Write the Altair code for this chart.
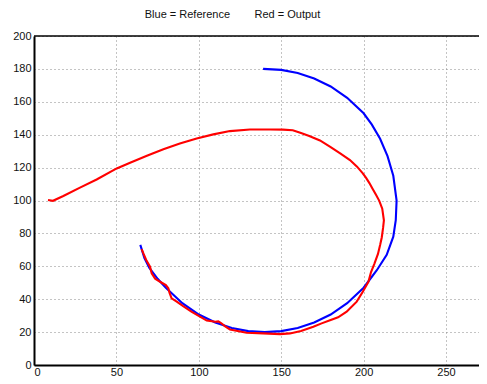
import altair as alt
import pandas as pd

# Blue = Reference
ref_x = [139, 150, 160, 170, 180, 190, 200, 205, 210, 214.5, 218, 220, 219.5, 218, 214, 208, 200, 190, 180, 170, 160, 150, 140, 130, 120, 110, 100, 90, 80, 75, 70, 67, 64.5]
ref_y = [180, 179.4, 177.5, 174.2, 169.3, 162.4, 153, 146.1, 137.5, 127, 115, 100, 88, 78, 67, 57.6, 47, 37.6, 30.7, 25.8, 22.5, 20.6, 20, 20.6, 22.5, 25.8, 30.7, 37.6, 47, 52.4, 59, 65, 73]

# Red = Output
out_x = [8.5, 11.5, 17.8, 27.9, 38, 50.2, 58.3, 68.5, 78.5, 88.5, 98.7, 108.8, 118.9, 131, 143.2, 151, 157, 162, 167, 173.5, 180, 186, 191.7, 196, 199.5, 201.5, 203.5, 205.5, 207.5, 209.5, 211.3, 212.3, 211.8, 211, 210, 208.7, 206.5, 204.5, 202.9, 199.5, 195.8, 189.7, 184.5, 179.6, 174.5, 169.5, 162, 155.3, 149.3, 139, 129, 118.9, 116, 113.5, 111.8, 110, 104.8, 100.7, 95.5, 90.5, 86.6, 83.5, 82.2, 81.5, 80, 76.5, 73.5, 71.4, 70.4, 68, 66.5, 65.3]
out_y = [100.3, 99.8, 102.7, 107.8, 112.8, 119.5, 123, 127.2, 131.2, 134.6, 137.7, 140.2, 142.2, 143.2, 143.2, 143.1, 142.7, 141, 139.2, 136.5, 132.5, 128.5, 124.6, 120.6, 116.5, 113.7, 110.6, 107, 103.5, 99.8, 95, 88, 83.3, 77.5, 72.9, 67.5, 61.5, 56.5, 50.6, 44.5, 38.5, 32.4, 29, 27.2, 25.3, 23.3, 20.7, 19.2, 18.8, 19.2, 19.6, 21.6, 23.5, 25.5, 26.5, 26.3, 27, 29.4, 32.5, 35.8, 38.5, 40.5, 44, 46.6, 48.6, 50.6, 52.5, 55.7, 59.8, 64, 67.5, 70.5]

x_ticks = [0, 50, 100, 150, 200, 250]
y_ticks = list(range(0, 201, 20))

ref = pd.DataFrame({"x": ref_x, "y": ref_y, "i": range(len(ref_x)), "s": "Reference"})
out = pd.DataFrame({"x": out_x, "y": out_y, "i": range(len(out_x)), "s": "Output"})
df = pd.concat([ref, out], ignore_index=True)

W, H = 445, 329

xs = alt.Scale(domain=[0, 270], nice=False)
ys = alt.Scale(domain=[0, 200], nice=False)

common = dict(grid=True, gridDash=[1, 3], gridColor="#888888", gridWidth=1, ticks=False,
              domainColor="black", domainWidth=2, labelFont="Liberation Sans",
              labelFontSize=11, labelColor="#111111", title=None)
xaxis = alt.Axis(values=x_ticks, labelPadding=1, **common)
yaxis = alt.Axis(values=y_ticks, labelPadding=3, **common)

lines = alt.Chart(df).mark_line(strokeWidth=2.1).encode(
    x=alt.X("x:Q", scale=xs, axis=xaxis),
    y=alt.Y("y:Q", scale=ys, axis=yaxis),
    color=alt.Color("s:N", scale=alt.Scale(domain=["Reference", "Output"], range=["#0000ff", "#ff0000"]), legend=None),
    order="i:Q",
    detail="s:N",
)

frame = alt.Chart(pd.DataFrame({"a": [0]})).mark_rule(color="black", strokeWidth=1.5).encode(
    x=alt.value(0), x2=alt.value(W), y=alt.value(0)
)

chart = alt.layer(frame, lines).properties(
    width=W, height=H,
    title=alt.TitleParams("Blue = Reference\u00a0\u00a0\u00a0\u00a0\u00a0\u00a0\u00a0 Red = Output",
                          font="Liberation Sans", fontSize=11, fontWeight="normal", color="#111111",
                          offset=10, dx=-24),
    padding={"left": 26, "top": 28, "right": 0, "bottom": 11},
    autosize=alt.AutoSizeParams(type="none"),
).configure_view(stroke=None)

chart.save("out.html", embed_options={"renderer": "svg", "actions": False})
